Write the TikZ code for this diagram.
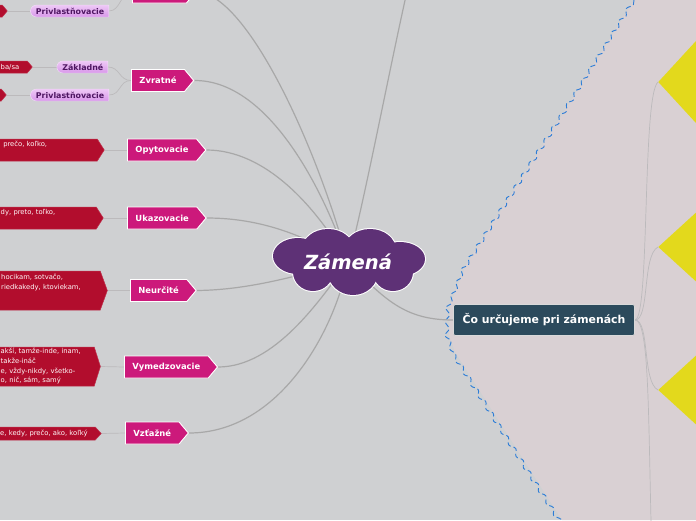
\documentclass[tikz,border=0pt]{standalone}
\usepackage{fontspec}
\setmainfont{DejaVu Sans}
\setlength{\parindent}{0pt}
\usetikzlibrary{shapes.symbols, shapes.geometric, shapes.misc, decorations.pathmorphing, positioning}
\definecolor{leftbg}{RGB}{207,208,210}
\definecolor{rightbg}{RGB}{217,208,211}
\definecolor{bordblue}{RGB}{45,125,215}
\definecolor{cloudpurple}{RGB}{94,49,118}
\definecolor{magentabox}{RGB}{204,25,123}
\definecolor{crimsonbox}{RGB}{178,13,45}
\definecolor{lavtop}{RGB}{238,200,246}
\definecolor{lavbot}{RGB}{216,152,234}
\definecolor{lavtext}{RGB}{78,22,98}
\definecolor{slatebox}{RGB}{44,74,92}
\definecolor{diamyellow}{RGB}{227,217,28}
\definecolor{linkgray}{RGB}{168,168,168}
\definecolor{twiggray}{RGB}{188,186,188}
\pgfdeclarelayer{bg}
\pgfdeclarelayer{mid}
\pgfsetlayers{bg,mid,main}

\begin{document}
\begin{tikzpicture}[
    x=1pt, y=-1pt,
    central/.style={text=white, font=\fontsize{19.5}{22}\selectfont\bfseries\itshape, inner sep=0pt},
    puffrim/.style={draw=white, line width=2pt},
    puff/.style={fill=cloudpurple},
    branch/.style={signal, signal to=east, signal pointer angle=100, fill=magentabox, draw=white, line width=0.9pt, text=white, font=\fontsize{8.4}{10}\selectfont\bfseries, minimum height=22pt, inner xsep=8pt, inner ysep=0pt, anchor=west},
    leaf/.style={signal, signal to=east, fill=crimsonbox, draw=crimsonbox!85!white, line width=0.5pt, text=white!92!pink, font=\fontsize{6.8}{9.7}\selectfont, align=left, inner xsep=6pt, inner ysep=0pt, anchor=west},
    sub/.style={rounded rectangle, rounded rectangle right arc=none, top color=lavtop, bottom color=lavbot, draw=white!70!lavbot, line width=0.4pt, text=lavtext, font=\fontsize{7.9}{8}\selectfont\bfseries, minimum height=12pt, inner xsep=4.5pt, inner ysep=0pt, anchor=east},
    question/.style={rectangle, rounded corners=2pt, fill=slatebox, draw=white!85!black, line width=0.8pt, text=white, font=\fontsize{10.9}{13}\selectfont\bfseries, minimum width=181pt, minimum height=31pt},
    marker/.style={diamond, fill=diamyellow, inner sep=0pt, anchor=west},
    link/.style={draw=linkgray, line width=1.2pt},
    twig/.style={draw=twiggray, line width=0.7pt}
  ]
    \useasboundingbox (0,0) rectangle (696,520);
    \begin{pgfonlayer}{bg}
      \fill[leftbg] (0,0) rectangle (696,520);
      \fill[rightbg] (634,0) -- (560,118) -- (466,265) -- (450,305) -- (449,335) -- (455,352) -- (562,520) -- (696,520) -- (696,0) -- cycle;
      \draw[bordblue, line width=0.9pt, dash pattern=on 5pt off 3pt, decorate, decoration={snake, amplitude=2pt, segment length=14pt}]
        (634,0) -- (560,118) -- (466,265) -- (450,305) -- (449,335) -- (455,352) -- (562,520);
    \end{pgfonlayer}

    \node[central] (zam) at (348,262) {Zámená};
    \begin{pgfonlayer}{mid}
      \begin{scope}[shift={(zam.center)}]
        \foreach \cx/\cy/\rx/\ry in {-50/-6/25/18, -20/-12/26/21, 22/-12/26/21, 52/-3/25/17, 45/10/20/19, 5/10/25/23, -35/10/20/19, 0/0/45/22}
          \draw[puffrim] (\cx,\cy) ellipse [x radius=\rx, y radius=\ry];
        \foreach \cx/\cy/\rx/\ry in {-50/-6/25/18, -20/-12/26/21, 22/-12/26/21, 52/-3/25/17, 45/10/20/19, 5/10/25/23, -35/10/20/19, 0/0/45/22}
          \fill[puff] (\cx,\cy) ellipse [x radius=\rx, y radius=\ry];
      \end{scope}
    \end{pgfonlayer}
    \node[question] (co) at (544,320) {Čo určujeme pri zámenách};

    \node[branch, inner xsep=27pt] (osob) at (132,-8) {};
    \node[branch] (zvr) at (131,80.5) {Zvratné};
    \node[branch] (opy) at (127,150) {Opytovacie};
    \node[branch] (uka) at (127,218) {Ukazovacie};
    \node[branch] (neu) at (130,290.5) {Neurčité};
    \node[branch] (vym) at (124,367) {Vymedzovacie};
    \node[branch] (vzt) at (125,433) {Vzťažné};

    \node[sub] (priv1) at (109,11) {Privlastňovacie};
    \node[sub] (zakl) at (108,67) {Základné};
    \node[sub] (priv2) at (109,95) {Privlastňovacie};

    \node[leaf, signal pointer angle=100, inner xsep=10pt, minimum height=12pt] (osobr) at (-18,11) {};
    \node[leaf, signal pointer angle=100, minimum height=12pt, text width=20.5pt] (zvrzr) at (-5.5,67) {ba/sa};
    \node[leaf, signal pointer angle=100, inner xsep=10pt, minimum height=12pt] (zvrpr) at (-19,95) {};
    \node[leaf, signal pointer angle=115, minimum height=22pt, text width=88pt] (opyr) at (-3,150) {prečo, koľko,\\\strut};
    \node[leaf, signal pointer angle=115, minimum height=22pt, text width=89.5pt] (ukar) at (-5.5,218) {dy, preto, toľko,\\\strut};
    \node[leaf, signal pointer angle=140, minimum height=39pt, text width=93pt] (neur) at (-5,290.5) {hocikam, sotvačo,\\riedkakedy, ktoviekam,\\[5pt]\strut};
    \node[leaf, signal pointer angle=145, minimum height=39pt, text width=87.5pt] (vymr) at (-5.5,366.5)
      {\begin{tabular}{@{}l@{}}akší, tamže-inde, inam,\\takže-ináč\\e, vždy-nikdy, všetko-\\o, nič, sám, samý\end{tabular}};
    \node[leaf, signal pointer angle=95, minimum height=13pt, text width=89pt] (vztr) at (-6,433.5) {e, kedy, prečo, ako, koľký};

    \node[marker, minimum width=160pt, minimum height=174pt] (d1) at (658,82) {};
    \node[marker, minimum width=160pt, minimum height=146pt] (d2) at (658,247) {};
    \node[marker, minimum width=160pt, minimum height=146pt] (d3) at (658,390) {};

    \coordinate (upper) at (412,-30);
    \coordinate (lower) at (652,560);

    \begin{pgfonlayer}{bg}
      \draw[link] (osob.east) .. controls (245,-8) and (315,140) .. (zam.center);
      \draw[link] (zvr.east) .. controls (265,80) and (320,180) .. (zam.center);
      \draw[link] (opy.east) .. controls (265,150) and (315,205) .. (zam.center);
      \draw[link] (uka.east) .. controls (260,218) and (305,235) .. (zam.center);
      \draw[link] (neu.east) .. controls (250,290) and (300,275) .. (zam.center);
      \draw[link] (vym.east) .. controls (275,367) and (320,300) .. (zam.center);
      \draw[link] (vzt.east) .. controls (280,433) and (335,330) .. (zam.center);
      \draw[link] (zam.center) .. controls (365,200) and (395,40) .. (upper);
      \draw[link] (zam.center) .. controls (385,300) and (405,320) .. (co.west);

      \draw[twig] (osobr.east) -- (priv1.west);
      \draw[twig] (priv1.east) .. controls (121,11) and (120,-8) .. (osob.west);
      \draw[twig] (zvrzr.east) -- (zakl.west);
      \draw[twig] (zakl.east) .. controls (120,67) and (119,80.5) .. (zvr.west);
      \draw[twig] (zvrpr.east) -- (priv2.west);
      \draw[twig] (priv2.east) .. controls (121,95) and (119,80.5) .. (zvr.west);
      \draw[twig] (opyr.east) -- (opy.west);
      \draw[twig] (ukar.east) -- (uka.west);
      \draw[twig] (neur.east) -- (neu.west);
      \draw[twig] (vymr.east) -- (vym.west);
      \draw[twig] (vztr.east) -- (vzt.west);

      \draw[twig] (co.east) .. controls (650,320) and (642,95) .. (d1.west);
      \draw[twig] (co.east) .. controls (650,320) and (642,255) .. (d2.west);
      \draw[twig] (co.east) .. controls (650,320) and (642,382) .. (d3.west);
      \draw[twig] (co.east) .. controls (650,320) and (648,420) .. (lower);
    \end{pgfonlayer}
\end{tikzpicture}
\end{document}
